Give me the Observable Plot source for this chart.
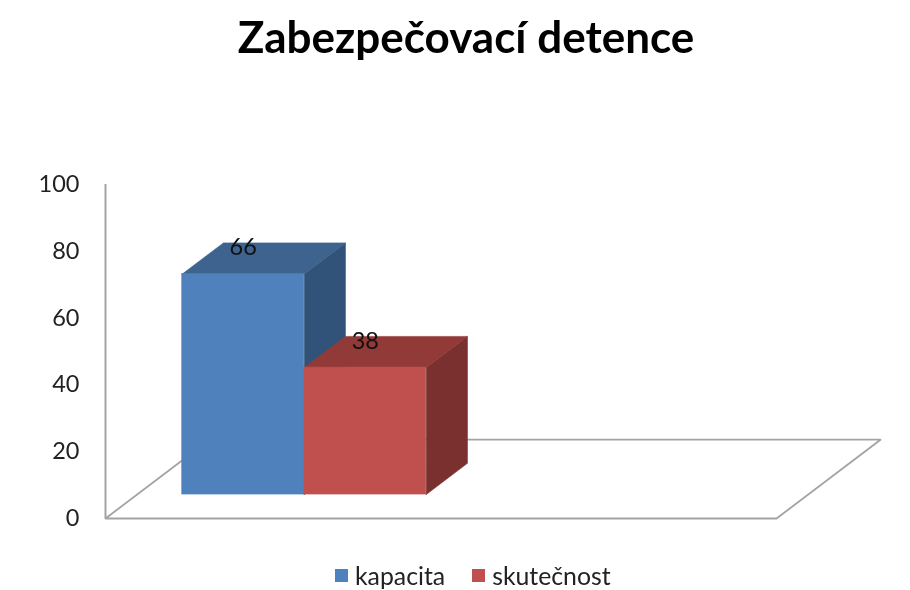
<!DOCTYPE html>
<html>
<head>
<meta charset="utf-8">
<script src="https://cdn.jsdelivr.net/npm/d3@7"></script>
<script src="https://cdn.jsdelivr.net/npm/@observablehq/plot@0.6"></script>
<style>
  html, body { margin: 0; padding: 0; background: #fff; width: 910px; height: 590px; overflow: hidden; font-family: Lato, sans-serif; }
  #title { height: 70px; box-sizing: border-box; padding: 8px 0 0 22px; text-align: center; font-size: 44px; line-height: 56px; font-weight: 700; color: #000; filter: blur(0.4px); }
  #chart { filter: blur(0.4px); }
  #chart svg { display: block; }
  #legend { position: absolute; top: 560px; left: 335px; height: 30px; display: flex; align-items: center; font-size: 24.8px; color: #222; filter: blur(0.4px); }
  #legend i { display: inline-block; width: 13px; height: 13px; margin-right: 7px; }
  #legend span { display: flex; align-items: center; margin-right: 27px; }
</style>
</head>
<body>
<div id="title"></div>
<div id="chart"></div>
<div id="legend"></div>
<script>
const titleText = "Zabezpečovací detence";
const seriesNames = ["kapacita", "skutečnost"];
const seriesValues = [66, 38];
const frontColors = ["#4F81BD", "#C0504D"];
const topColors = ["#3E638F", "#923A38"];
const sideColors = ["#325379", "#7A302E"];
const yTicks = [0, 20, 40, 60, 80, 100];

// Oblique projection of the floor, in scale units
const floorWidth = 5.5, barWidth = 1, barStart = 0.37;
const depthX = 0.852, depthY = 23.6;      // shift of the back edge of the floor
const barNear = 0.304, barFar = 0.70;     // depth span of the bars, 0 = front, 1 = back
const p = (x, h, d) => ({x: x + d * depthX, y: h + d * depthY});

const bars = seriesNames.map((name, i) => ({
  name, value: seriesValues[i],
  x0: barStart + i * barWidth, x1: barStart + (i + 1) * barWidth,
  front: frontColors[i], top: topColors[i], side: sideColors[i]
}));

const face = (id, fill, pts) => pts.map(q => ({...q, id, fill}));
const faces = bars.flatMap(b => [
  ...face(b.name + "-side", b.side, [p(b.x1, 0, barNear), p(b.x1, 0, barFar), p(b.x1, b.value, barFar), p(b.x1, b.value, barNear), p(b.x1, 0, barNear)]),
  ...face(b.name + "-top", b.top, [p(b.x0, b.value, barNear), p(b.x1, b.value, barNear), p(b.x1, b.value, barFar), p(b.x0, b.value, barFar), p(b.x0, b.value, barNear)])
]);
const floor = [p(0, 0, 1), p(0, 0, 0), p(floorWidth, 0, 0), p(floorWidth, 0, 1), p(0, 0, 1)];
const fronts = bars.map(b => {
  const lo = p(b.x0, 0, barNear), hi = p(b.x1, b.value, barNear);
  return {x1: lo.x, x2: hi.x, y1: lo.y, y2: hi.y, fill: b.front, label: b.value, cx: (lo.x + hi.x) / 2};
});

const plot = Plot.plot({
  width: 910, height: 490,
  marginLeft: 105, marginRight: 30, marginTop: 114, marginBottom: 42,
  x: {domain: [0, floorWidth + depthX], axis: null},
  y: {domain: [0, 100], axis: null},
  color: {type: "identity"},
  style: {background: "transparent", fontFamily: "Lato, sans-serif"},
  marks: [
    Plot.axisY({ticks: yTicks, tickSize: 0, tickPadding: 26, label: null, fontSize: 23.5, color: "#222", anchor: "left"}),
    Plot.ruleX([0], {y1: 0, y2: 100, stroke: "#a3a3a3", strokeWidth: 2}),
    Plot.line(floor, {x: "x", y: "y", stroke: "#a3a3a3", strokeWidth: 1.8}),
    Plot.line(faces, {x: "x", y: "y", z: "id", fill: "fill", stroke: "fill", strokeWidth: 0.6}),
    Plot.rect(fronts, {x1: "x1", x2: "x2", y1: "y1", y2: "y2", fill: "fill", stroke: "fill", strokeWidth: 0.6, inset: 0}),
    Plot.text(fronts, {x: "cx", y: d => d.y2 + 7.9, text: d => String(d.label), fontSize: 23.5, fill: "#111"})
  ]
});
document.getElementById("chart").append(plot);
document.getElementById("title").textContent = titleText;
const legend = d3.select("#legend");
bars.forEach(b => {
  const s = legend.append("span");
  s.append("i").style("background", b.front);
  s.append("b").style("font-weight", 400).text(b.name);
});
</script>
</body>
</html>
